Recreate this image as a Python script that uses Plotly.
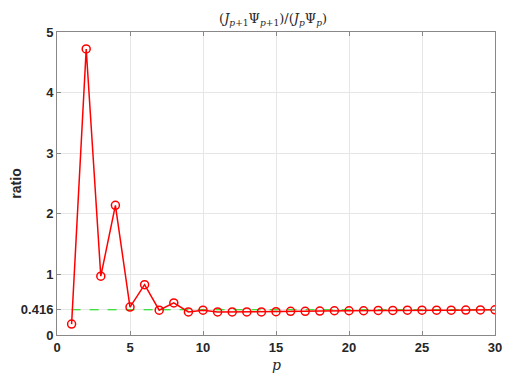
import plotly.graph_objects as go

# p index and the ratio (J_{p+1} Psi_{p+1}) / (J_p Psi_p)
p = list(range(1, 31))
ratio = [0.18, 4.72, 0.97, 2.14, 0.46, 0.83, 0.41, 0.53, 0.38, 0.41,
         0.38, 0.38, 0.38, 0.38, 0.385, 0.39, 0.39, 0.395, 0.40, 0.40,
         0.40, 0.405, 0.405, 0.41, 0.41, 0.41, 0.41, 0.412, 0.414, 0.416]
limit = 0.416
limit_line = [limit] * len(p)

ytick_vals = [0, limit, 1, 2, 3, 4, 5]
ytick_text = ["0", "0.416", "1", "2", "3", "4", "5"]
xtick_vals = [0, 5, 10, 15, 20, 25, 30]

fig = go.Figure()

fig.add_scatter(x=p, y=limit_line, mode="lines",
                line=dict(color="#00dd00", width=1, dash="dash"),
                showlegend=False)

fig.add_scatter(x=p, y=ratio, mode="lines+markers",
                line=dict(color="red", width=1.5),
                marker=dict(symbol="circle-open", size=8, color="red",
                            line=dict(width=1.5)),
                showlegend=False)

axis_common = dict(showline=True, linecolor="#888888", linewidth=1,
                   mirror="ticks", ticks="inside", ticklen=4,
                   tickcolor="#888888", showgrid=True, gridcolor="#e6e6e6",
                   zeroline=False, automargin=False,
                   tickfont=dict(family="Liberation Sans", size=13,
                                 color="#262626", weight="bold"))

fig.update_xaxes(range=[0, 30], tickvals=xtick_vals, **axis_common)
fig.update_yaxes(range=[0, 5], tickvals=ytick_vals, ticktext=ytick_text,
                 title=dict(text="ratio",
                            font=dict(family="Liberation Sans", size=14,
                                      color="#262626", weight="bold")),
                 **axis_common)

# x label as an annotation so it sits just under the tick labels
fig.add_annotation(text="<i>p</i>", xref="paper", yref="paper",
                   x=0.5, y=-0.1, xanchor="center", yanchor="middle",
                   showarrow=False,
                   font=dict(family="DejaVu Serif", size=14, color="#262626"))

# the page puts the figure 8px in from the top-left corner, margins allow for that
fig.update_layout(
    width=526, height=379,
    margin=dict(l=49, r=39, t=24, b=52),
    paper_bgcolor="white", plot_bgcolor="white",
    font=dict(family="Liberation Sans", size=13, color="#262626"),
    title=dict(text="(<i>J</i><sub><i>p</i>+1</sub>Ψ<sub><i>p</i>+1</sub>)/(<i>J</i><sub><i>p</i></sub>Ψ<sub><i>p</i></sub>)",
               x=0.504, xanchor="center", y=0.985, yanchor="top",
               font=dict(family="DejaVu Serif", size=13, color="#262626")),
)

fig.write_html("out.html")
